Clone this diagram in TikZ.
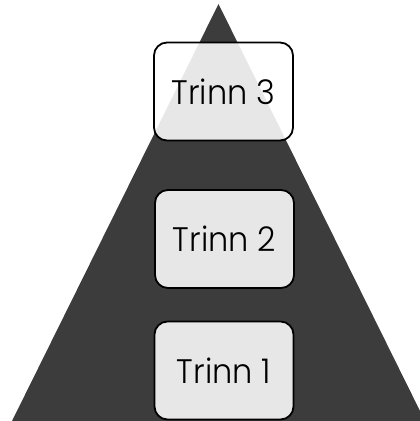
\documentclass[tikz,border=0pt]{standalone}
\usepackage{fontspec}
\setmainfont{Poppins}[UprightFont=* Light]
\newcommand{\steptext}[1]{\scalebox{0.94}[1]{#1}}
\begin{document}
\begin{tikzpicture}[x=1pt,y=-1pt,
  stepbox/.style={draw=black,line width=1.8pt,rounded corners=13pt,fill=white,fill opacity=0.88,text opacity=1,minimum width=139pt,minimum height=98pt,inner sep=0pt,font=\fontsize{34}{40}\selectfont}]
\useasboundingbox (0,0) rectangle (420,421);
\begin{scope}
\clip (0,0) rectangle (420,421);
\fill[fill={rgb,255:red,60;green,60;blue,60}] (218.5,4) coordinate (apex) -- (12,421) coordinate (bl) -- (425,421) coordinate (br) -- cycle;
\end{scope}
\node[stepbox] (t3) at (223.5,91.5) {\steptext{Trinn 3}};
\node[stepbox] (t2) at (224.5,239) {\steptext{Trinn 2}};
\node[stepbox] (t1) at (224,370.5) {\steptext{Trinn 1}};
\end{tikzpicture}
\end{document}
